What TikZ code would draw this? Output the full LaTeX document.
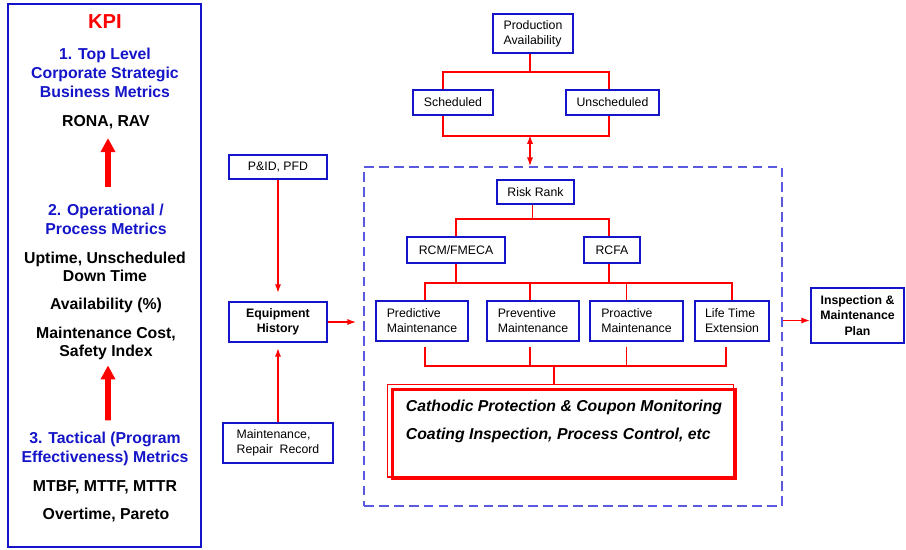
\documentclass[tikz,border=0pt]{standalone}
\usepackage{fontspec}
\setmainfont{Liberation Sans}
\usepackage{tikz}
\usetikzlibrary{arrows.meta}
\definecolor{boxblue}{RGB}{20,20,200}
\definecolor{dashblue}{RGB}{90,90,225}

\begin{document}
\begin{tikzpicture}[x=0.02cm,y=-0.02cm,
  blk/.style={draw=boxblue,line width=1pt,inner sep=0pt,align=left,font=\fontsize{7}{8.5}\selectfont},
  blkb/.style={blk,align=center,font=\fontsize{7}{8.6}\selectfont\bfseries},
  kpihead/.style={text=boxblue,font=\fontsize{9}{10.8}\selectfont\bfseries,align=center,inner sep=0pt},
  kpitxt/.style={text=black,font=\fontsize{9}{10.4}\selectfont\bfseries,align=center,inner sep=0pt},
  link/.style={draw=red,line width=0.9pt},
  arr/.style={link,-{Latex[length=5pt,width=3.5pt]}},
  kpiarrow/.style={draw=red,line width=3.2pt,-{Triangle[length=8pt,width=8pt]}}]
\useasboundingbox (0,0) rectangle (906,549);

\draw[boxblue,line width=1.2pt] (8,4) rectangle (201,547);
\node[text=red,font=\fontsize{11.5}{13}\selectfont\bfseries,inner sep=0pt] (kpi) at (105,22) {KPI};
\node[kpihead] (top) at (105,73) {1. Top Level\\Corporate Strategic\\Business Metrics};
\node[kpitxt] (rona) at (106,122) {RONA, RAV};
\node[kpihead] (op) at (106,219) {2. Operational /\\Process Metrics};
\node[kpitxt] (up) at (105,267) {Uptime, Unscheduled\\Down Time};
\node[kpitxt] (av) at (106,305) {Availability (\%)};
\node[kpitxt] (mc) at (106,343.5) {Maintenance Cost,\\Safety Index};
\node[kpihead] (tac) at (105,448.5) {3. Tactical (Program\\Effectiveness) Metrics};
\node[kpitxt] (mt) at (105,487) {MTBF, MTTF, MTTR};
\node[kpitxt] (ot) at (106,515) {Overtime, Pareto};
\draw[kpiarrow,shorten <=0.32cm,shorten >=0.18cm] ([xshift=0.04cm]op.north) -- ([xshift=0.04cm]rona.south);
\draw[kpiarrow,shorten <=0.22cm,shorten >=0.1cm] ([xshift=0.06cm]tac.north) -- ([xshift=0.04cm]mc.south);

\node[blk,minimum width=1.6cm,minimum height=0.78cm] (prod) at (533,33.5) {Production\\Availability};
\node[blk,minimum width=1.6cm,minimum height=0.5cm] (sch) at (453,102.5) {Scheduled};
\node[blk,minimum width=1.86cm,minimum height=0.5cm] (uns) at (612.5,102.5) {Unscheduled};
\draw[link] ([xshift=-0.06cm]prod.south) -- ++(0,18) -| ([xshift=-0.2cm]sch.north);
\draw[link] ([xshift=-0.06cm]prod.south) -- ++(0,18) -| ([xshift=-0.07cm]uns.north);
\draw[link] ([xshift=-0.2cm]sch.south) -- ++(0,20) -| ([xshift=-0.07cm]uns.south);
\coordinate (pj) at (530,135);

\node[draw=dashblue,line width=0.9pt,dash pattern=on 5.5pt off 3pt,minimum width=8.36cm,minimum height=6.78cm,inner sep=0pt] (core) at (573,336.5) {};
\draw[link,{Latex[length=5pt,width=3.5pt]}-{Latex[length=5pt,width=3.5pt]}] (pj) -- (pj |- core.north);

\node[blk,minimum width=1.54cm,minimum height=0.48cm] (risk) at (535.5,192) {Risk Rank};
\node[blk,minimum width=1.96cm,minimum height=0.52cm] (rcm) at (456,250) {RCM/FMECA};
\node[blk,minimum width=1.12cm,minimum height=0.52cm] (rcfa) at (612,250) {RCFA};
\draw[link] ([xshift=-0.06cm]risk.south) -- ++(0,14) -| (rcm.north);
\draw[link] ([xshift=-0.06cm]risk.south) -- ++(0,14) -| ([xshift=-0.06cm]rcfa.north);

\node[blk,minimum width=1.84cm,minimum height=0.8cm] (pred) at (422,321) {Predictive\\Maintenance};
\node[blk,minimum width=1.84cm,minimum height=0.8cm] (prev) at (533,321) {Preventive\\Maintenance};
\node[blk,minimum width=1.86cm,minimum height=0.8cm] (proa) at (636.5,321) {Proactive\\Maintenance};
\node[blk,minimum width=1.48cm,minimum height=0.8cm] (life) at (732,321) {Life Time\\Extension};
\draw[link] (rcm.south) -- ++(0,19) coordinate (mj);
\draw[link] ([xshift=-0.06cm]rcfa.south) -- ++(0,19);
\draw[link] ([xshift=0.06cm]pred.north) |- (life.north |- mj) -- (life.north);
\draw[link] ([xshift=-0.06cm]prev.north) -- ([xshift=-0.06cm]prev.north |- mj);
\draw[link] ([xshift=-0.2cm]proa.north) -- ([xshift=-0.2cm]proa.north |- mj);
\draw[link] ([xshift=0.06cm,yshift=-0.1cm]pred.south) -- ++(0,19) coordinate (bj) -| ([xshift=-0.12cm,yshift=-0.1cm]life.south);
\draw[link] ([xshift=-0.06cm,yshift=-0.1cm]prev.south) -- ++(0,19);
\draw[link] ([xshift=-0.2cm,yshift=-0.1cm]proa.south) -- ++(0,19);

\node[draw=red,line width=1.7pt,minimum width=6.88cm,minimum height=1.8cm,inner sep=0pt,align=left,font=\fontsize{9}{15.9}\selectfont\bfseries\itshape] (cp) at (564,434) {Cathodic Protection \& Coupon Monitoring\\Coating Inspection, Process Control, etc\\\mbox{}};
\draw[red,line width=0.6pt] ([shift={(-0.07cm,0.07cm)}]cp.north west) rectangle ([shift={(-0.07cm,0.07cm)}]cp.south east);
\draw[link] ([xshift=-0.2cm]cp.north |- bj) -- ([xshift=-0.2cm,yshift=0.08cm]cp.north);

\node[blk,minimum width=1.96cm,minimum height=0.48cm] (pid) at (278,167) {P\&ID, PFD};
\node[blkb,minimum width=1.96cm,minimum height=0.8cm] (eq) at (278,322) {Equipment\\History};
\node[blk,minimum width=2.2cm,minimum height=0.8cm] (mr) at (278,443) {Maintenance,\\Repair\ \ Record};
\draw[arr,shorten >=0.16cm] (pid) -- (eq);
\draw[arr,shorten >=0.1cm] (mr) -- (eq);
\draw[arr,shorten >=0.14cm] (eq.east) -- (eq.east -| core.west);

\node[blkb,minimum width=1.86cm,minimum height=1.1cm] (insp) at (857.5,315.5) {Inspection \&\\Maintenance\\Plan};
\draw[arr] ([yshift=-0.1cm]core.east |- insp.west) -- ([yshift=-0.1cm]insp.west);
\end{tikzpicture}
\end{document}
